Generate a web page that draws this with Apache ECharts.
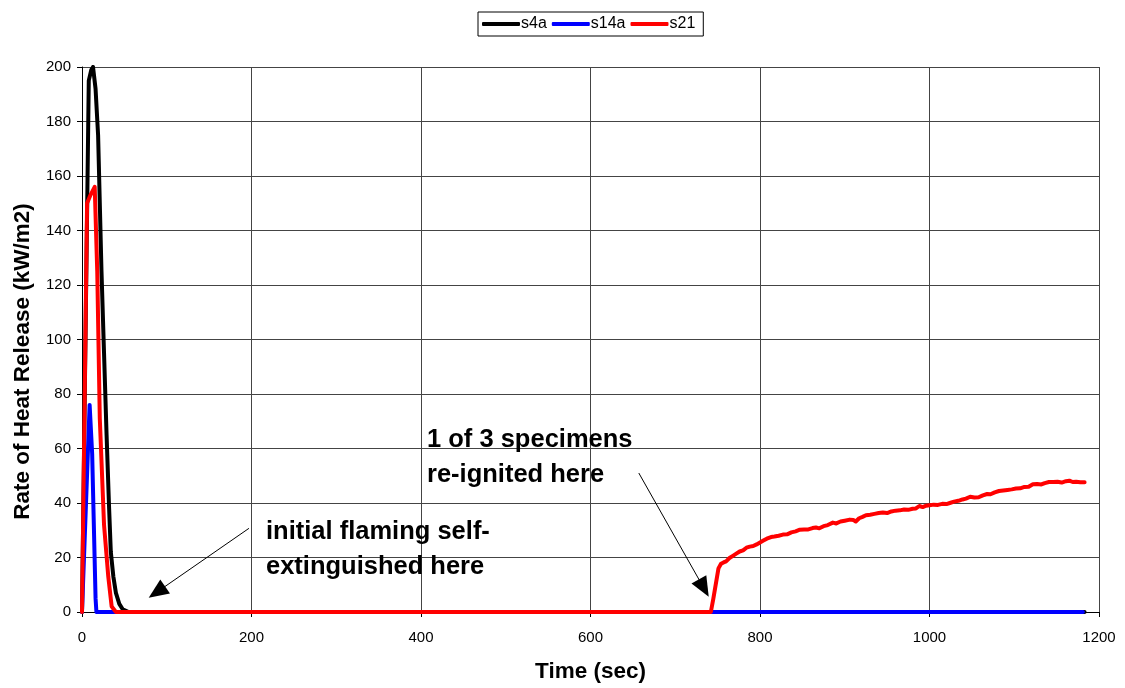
<!DOCTYPE html>
<html>
<head>
<meta charset="utf-8">
<script src="https://cdn.jsdelivr.net/npm/echarts@6/dist/echarts.min.js"></script>
<style>html,body{margin:0;padding:0;background:#fff}#c{width:1125px;height:688px}</style>
</head>
<body>
<div id="c"></div>
<script>
var seriesNames = ['s4a', 's14a', 's21'];
var xTicks = [0, 200, 400, 600, 800, 1000, 1200];
var yTicks = [0, 20, 40, 60, 80, 100, 120, 140, 160, 180, 200];

var s4a = [[0,0],[8,195],[11,199],[13,200],[16,192],[19,175],[23,125],[26,95],[29,65],[32,38],[34,22],[37,13],[40,7],[44,3],[48,1],[55,0],[1183,0]];
var s14a = [[0,0],[2,0],[9,76],[12,58],[16,5],[17,0],[1181,0]];
var s21 = [[0,0],[6,150],[10,153],[15,156],[18,125],[21,71],[26,32],[31,13],[35,2],[40,0],
[742,0],[745,5],[751,16],[754,17.7],[757,18.2],[760,18.6],[764,19.8],[768,20.6],[772,21.4],[776,22.2],[780,22.6],[784,23.6],[788,24.0],[792,24.2],[796,24.8],[800,25.5],[804,26.2],[808,26.9],[813,27.5],[817,27.7],[822,28.0],[827,28.4],[832,28.5],[837,29.2],[842,29.6],[847,30.2],[852,30.3],[857,30.3],[862,30.8],[866,31.0],[870,30.7],[875,31.5],[880,31.9],[886,32.8],[890,32.5],[895,33.2],[900,33.5],[906,33.9],[910,33.8],[913,33.2],[917,34.4],[921,34.9],[925,35.5],[930,35.7],[935,36.0],[940,36.3],[945,36.5],[950,36.3],[955,36.9],[960,37.2],[965,37.3],[970,37.6],[975,37.5],[980,37.9],[984,38.0],[988,38.9],[992,38.5],[996,39.0],[1000,39.2],[1005,39.4],[1010,39.3],[1015,39.7],[1020,39.6],[1024,40.0],[1029,40.5],[1034,40.8],[1039,41.3],[1043,41.6],[1048,42.3],[1053,42.0],[1058,42.1],[1063,42.8],[1068,43.3],[1072,43.2],[1077,43.9],[1082,44.4],[1087,44.6],[1092,44.8],[1097,45.0],[1102,45.3],[1107,45.4],[1112,45.9],[1117,46.0],[1122,46.9],[1127,47.0],[1132,46.8],[1136,47.3],[1141,47.7],[1146,47.7],[1151,47.8],[1156,47.5],[1161,48.0],[1165,48.2],[1169,47.7],[1173,47.8],[1178,47.6],[1183,47.6]];

var annotationTexts = ['initial flaming self-\nextinguished here', '1 of 3 specimens\nre-ignited here'];
var arrows = [[[197,30.7],[88.4,7.3]], [[657,51],[733.7,8.8]]];

var FONT = 'Arial, "Liberation Sans", sans-serif';
var chart = echarts.init(document.getElementById('c'));
function mkSeries(name, data, color){
  return {name:name, type:'line', data:data, showSymbol:false, symbol:'none', animation:false,
    lineStyle:{color:color, width:4, join:'round', cap:'round'}, itemStyle:{color:color}};
}
var sRed = mkSeries(seriesNames[2], s21, '#ff0000');
sRed.markLine = {silent:true, animation:false, symbol:['none','triangle'], symbolSize:[17,20],
  label:{show:false}, lineStyle:{color:'#000', width:1, type:'solid'},
  data: arrows.map(function(a){return [{coord:a[0]},{coord:a[1]}];})};

chart.setOption({
  animation:false,
  backgroundColor:'#fff',
  grid:{left:82, right:26, top:67, bottom:75, containLabel:false},
  legend:{data:seriesNames, left:478, top:12, orient:'horizontal', icon:'roundRect', itemWidth:38, itemHeight:4, itemGap:5,
    borderColor:'#000', borderWidth:1, borderRadius:0, padding:[4,8,4,4],
    textStyle:{fontFamily:FONT, fontSize:16, color:'#000', padding:[0,0,0,-4]}},
  xAxis:{type:'value', min:0, max:1200, interval:200,
    name:'Time (sec)', nameLocation:'middle', nameGap:48,
    nameTextStyle:{fontFamily:FONT, fontSize:22.5, fontWeight:'bold', color:'#000'},
    axisLine:{show:true, lineStyle:{color:'#000', width:1}},
    axisTick:{show:true, length:5, lineStyle:{color:'#000'}},
    axisLabel:{fontFamily:FONT, fontSize:15, color:'#000', margin:18, formatter:function(v){return String(v);}},
    splitLine:{show:true, lineStyle:{color:'#444', width:1}}},
  yAxis:{type:'value', min:0, max:200, interval:20,
    name:'Rate of Heat Release (kW/m2)', nameLocation:'middle', nameGap:48,
    nameTextStyle:{fontFamily:FONT, fontSize:22.5, fontWeight:'bold', color:'#000', padding:[0,44,0,0]},
    axisLine:{show:true, lineStyle:{color:'#000', width:1}},
    axisTick:{show:true, length:5, lineStyle:{color:'#000'}},
    axisLabel:{fontFamily:FONT, fontSize:15, color:'#000', margin:11, formatter:function(v){return String(v);}},
    splitLine:{show:true, lineStyle:{color:'#444', width:1}}},
  graphic:[
    {type:'text', left:266, top:514, z:100, style:{text:annotationTexts[0], font:'bold 25.5px '+FONT, fill:'#000', lineHeight:35}},
    {type:'text', left:427, top:422, z:100, style:{text:annotationTexts[1], font:'bold 25.5px '+FONT, fill:'#000', lineHeight:35}}
  ],
  series:[mkSeries(seriesNames[0], s4a, '#000000'), mkSeries(seriesNames[1], s14a, '#0000ff'), sRed]
});
</script>
</body>
</html>
